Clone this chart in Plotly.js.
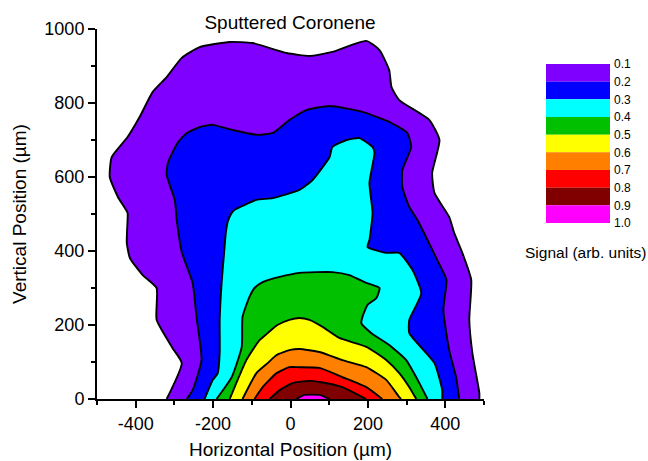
<!DOCTYPE html>
<html>
<head>
<meta charset="utf-8">
<script src="https://cdn.plot.ly/plotly-3.0.1.min.js"></script>
<style>html,body{margin:0;padding:0;background:#fff;}#chart{width:648px;height:461px;}</style>
</head>
<body>
<div id="chart"></div>
<script>
// Contour levels and fill colours (legend, top to bottom)
const levels = [0.1, 0.2, 0.3, 0.4, 0.5, 0.6, 0.7, 0.8, 0.9, 1.0];
const fillColors = ['#8000FF', '#0000FF', '#00FFFF', '#00C000', '#FFFF00', '#FF8000', '#FF0000', '#800000', '#FF00FF'];

// Contour boundaries (Horizontal position µm, Vertical position µm)
const c01x = [-320,-281,-305,-346,-346,-382,-415,-423,-421,-421,-446,-467,-462,-421,-390,-356,-320,-281,-235,-157,-98,-10,49,108,196,230,255,261,281,359,385,366,372,410,423,444,467,462,470,488,488];
const c01y = [0,97,138,214,300,335,381,422,484,503,546,600,654,708,762,830,870,922,951,965,962,935,927,938,968,943,889,843,808,754,700,611,557,492,449,395,322,214,124,16,0];

const c02x = [-268,-253,-230,-243,-253,-281,-294,-299,-320,-317,-292,-268,-235,-201,-150,-85,-46,-3,41,101,186,261,302,312,289,289,307,328,379,403,395,410,428,436];
const c02y = [0,24,105,222,314,397,484,538,605,638,692,719,735,741,727,714,719,754,781,792,776,746,719,681,619,573,519,484,376,322,241,132,59,0];

const c03x = [-222,-201,-188,-183,-183,-178,-172,-167,-162,-152,-145,-88,-46,23,57,101,108,145,178,212,217,204,212,204,199,248,281,315,338,307,307,372,392,392];
const c03y = [0,51,70,124,214,314,390,450,480,503,511,538,543,565,592,654,681,700,705,681,665,584,503,430,411,395,395,349,286,214,178,97,24,0];

const c04x = [-191,-152,-126,-124,-106,-93,-72,-28,23,108,152,196,230,222,199,186,183,209,255,299,333,354];
const c04y = [0,59,141,222,276,300,316,330,341,343,335,314,300,273,254,222,205,178,146,105,43,0];

const c05x = [-157,-114,-80,-59,-34,-3,23,49,83,126,196,248,281,307,325];
const c05y = [0,105,159,178,200,214,219,214,195,165,141,105,70,32,0];

const c06x = [-124,-88,-59,-36,-3,23,75,134,196,248,281,286];
const c06y = [0,70,97,119,132,135,127,105,86,51,5,0];

const c07x = [-93,-72,-36,-3,23,75,134,196,237];
const c07y = [0,32,70,86,86,84,59,32,0];

const c08x = [-54,-28,5,49,75,134,186,196];
const c08y = [0,24,43,49,46,32,5,0];

const c09x = [15,36,75,101];
const c09y = [0,11,11,0];

// Axis ticks
const xTicks = [-400, -200, 0, 200, 400];
const yTicks = [0, 200, 400, 600, 800, 1000];

const contours = [[c01x,c01y],[c02x,c02y],[c03x,c03y],[c04x,c04y],[c05x,c05y],[c06x,c06y],[c07x,c07y],[c08x,c08y],[c09x,c09y]];

const FONT = 'Arial, "Liberation Sans", sans-serif';
const traces = contours.map((c, i) => ({
  type: 'scatter', mode: 'lines', x: c[0], y: c[1],
  fill: 'toself', fillcolor: fillColors[i],
  line: {color: '#000', width: 1.9, shape: 'spline', smoothing: 0.5},
  hoverinfo: 'skip', showlegend: false, xaxis: 'x', yaxis: 'y'
}));

// Colour-scale legend built from the levels
const nb = fillColors.length;
traces.push({
  type: 'bar', orientation: 'v',
  x: fillColors.map(() => 0),
  base: levels.slice(0, nb),
  y: levels.slice(0, nb).map((v, i) => levels[i + 1] - v),
  width: 1,
  marker: {color: fillColors, line: {width: 0}},
  xaxis: 'x2', yaxis: 'y2', showlegend: false, hoverinfo: 'skip'
});

const W = 648, H = 461, L = 97, R = 20, T = 29, B = 62;
const pw = W - L - R, ph = H - T - B;
const px = v => (v - L) / pw;
const py = v => (H - B - v) / ph;

const axisCommon = {
  showline: true, linecolor: '#000', linewidth: 2,
  ticks: 'outside', ticklen: 7, tickwidth: 2, tickcolor: '#000',
  showgrid: false, zeroline: false,
  tickfont: {family: FONT, size: 18, color: '#000'},
  minor: {ticks: 'outside', ticklen: 4, tickwidth: 2, tickcolor: '#000', dtick: 100, showgrid: false}
};

const layout = {
  width: W, height: H,
  margin: {l: L, r: R, t: T, b: B},
  paper_bgcolor: '#fff', plot_bgcolor: 'rgba(0,0,0,0)',
  font: {family: FONT, color: '#000'},
  showlegend: false,
  barmode: 'overlay',
  title: {text: 'Sputtered Coronene', font: {family: FONT, size: 19, color: '#000'},
          x: px(290), xref: 'paper', xanchor: 'center', y: 1 - 22 / H, yref: 'container', yanchor: 'middle'},
  xaxis: Object.assign({}, axisCommon, {
    domain: [0, px(484)], range: [-500, 500], tickvals: xTicks, ticktext: xTicks.map(String),
    anchor: 'y'
  }),
  yaxis: Object.assign({}, axisCommon, {
    domain: [0, 1], range: [0, 1000], tickvals: yTicks, ticktext: yTicks.map(String),
    anchor: 'x',
    title: {text: 'Vertical Position (µm)', font: {family: FONT, size: 19, color: '#000'}, standoff: 13}
  }),
  xaxis2: {domain: [px(546), px(610)], range: [-0.5, 0.5], visible: false, anchor: 'y2', fixedrange: true},
  yaxis2: {domain: [py(223), py(64)], range: [1.0, 0.1], anchor: 'x2', side: 'right',
           tickvals: levels, ticktext: levels.map(v => v.toFixed(1)),
           showline: false, ticks: '', showgrid: false, zeroline: false, ticklabelstandoff: 3,
           tickfont: {family: FONT, size: 12, color: '#000'}},
  annotations: [{
    text: 'Horizontal Position (µm)', xref: 'paper', yref: 'paper', x: px(290.5), y: py(449),
    xanchor: 'center', yanchor: 'middle', showarrow: false,
    font: {family: FONT, size: 19, color: '#000'}
  }, {
    text: 'Signal (arb. units)', xref: 'paper', yref: 'paper', x: px(585), y: py(252),
    xanchor: 'center', yanchor: 'middle', showarrow: false,
    font: {family: FONT, size: 15.5, color: '#000'}
  }]
};

Plotly.newPlot('chart', traces, layout, {displayModeBar: false, staticPlot: true});
</script>
</body>
</html>
